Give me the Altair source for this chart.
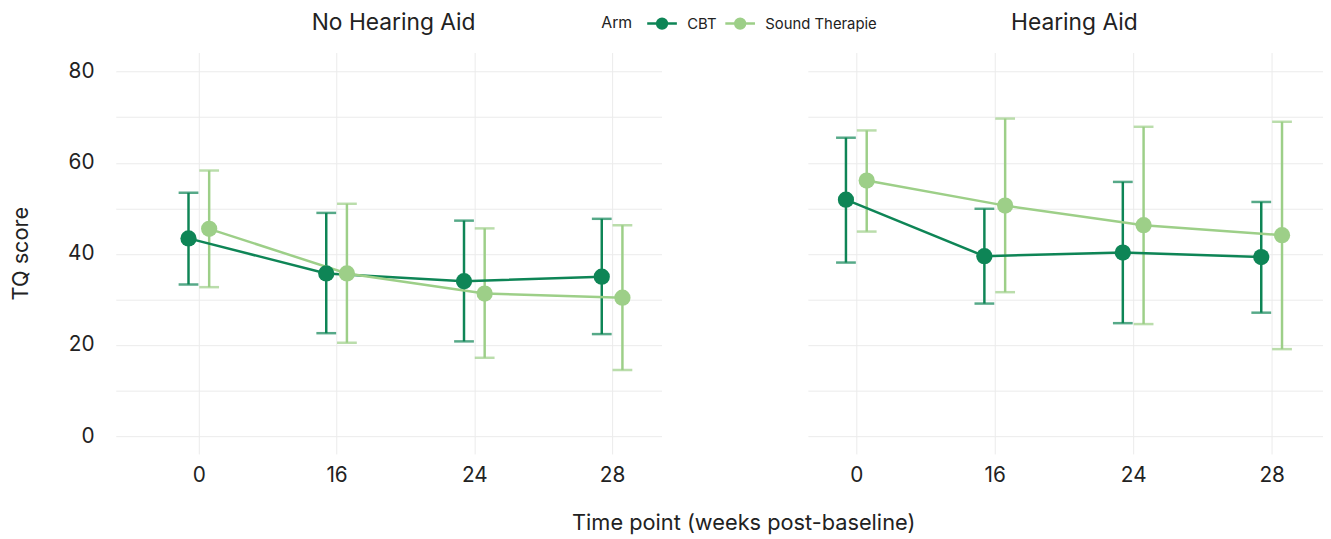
import altair as alt
import pandas as pd

TIMES = ["0", "16", "24", "28"]
ARMS = ["CBT", "Sound Therapie"]
GROUPS = ["No Hearing Aid", "Hearing Aid"]
COLORS = ["#0E8556", "#9DCF88"]

NHA_CBT_MEAN = [43.4, 35.7, 34.0, 35.0]
NHA_CBT_LO = [33.3, 22.6, 20.8, 22.4]
NHA_CBT_HI = [53.4, 49.0, 47.3, 47.7]
NHA_ST_MEAN = [45.5, 35.7, 31.3, 30.4]
NHA_ST_LO = [32.7, 20.5, 17.2, 14.5]
NHA_ST_HI = [58.3, 51.0, 45.6, 46.3]
HA_CBT_MEAN = [51.9, 39.5, 40.3, 39.3]
HA_CBT_LO = [38.1, 29.1, 24.8, 27.1]
HA_CBT_HI = [65.5, 49.9, 55.8, 51.4]
HA_ST_MEAN = [56.1, 50.6, 46.3, 44.1]
HA_ST_LO = [44.9, 31.6, 24.6, 19.1]
HA_ST_HI = [67.1, 69.7, 67.9, 69.0]

SERIES = {
    ("No Hearing Aid", "CBT"): (NHA_CBT_MEAN, NHA_CBT_LO, NHA_CBT_HI),
    ("No Hearing Aid", "Sound Therapie"): (NHA_ST_MEAN, NHA_ST_LO, NHA_ST_HI),
    ("Hearing Aid", "CBT"): (HA_CBT_MEAN, HA_CBT_LO, HA_CBT_HI),
    ("Hearing Aid", "Sound Therapie"): (HA_ST_MEAN, HA_ST_LO, HA_ST_HI),
}

rows = []
for (g, a), (m, lo, hi) in SERIES.items():
    for i, t in enumerate(TIMES):
        rows.append({"group": g, "arm": a, "idx": i, "time": t,
                     "mean": m[i], "lo": lo[i], "hi": hi[i]})
df = pd.DataFrame(rows)

FONT = "Inter"
TXT = "#222222"
GRID = "#EBEBEB"
DODGE = 0.075

label_expr = "[" + ",".join("'%s'" % t for t in TIMES) + "][datum.value]"
y_label_expr = "datum.value % 20 == 0 ? datum.label : ''"

color = alt.Color(
    "arm:N",
    scale=alt.Scale(domain=ARMS, range=COLORS),
    legend=alt.Legend(
        title="Arm", orient="none", legendX=491, legendY=-41,
        direction="horizontal", titleOrient="left",
        titleFont=FONT, titleFontSize=16, titleFontWeight="normal", titleColor=TXT,
        labelFont=FONT, labelFontSize=15, labelColor=TXT,
        symbolType="M-1.5,0L1.5,0M-0.5,0A0.5,0.5 0 1,0 0.5,0A0.5,0.5 0 1,0 -0.5,0",
        symbolSize=400, symbolStrokeWidth=2.5, symbolOpacity=1,
        columnPadding=3, labelOffset=14, titlePadding=18,
    ),
)


def panel(group, domain, width, show_y, title_dx):
    base = alt.Chart(df).transform_filter(
        alt.datum.group == group
    ).transform_calculate(
        pos="datum.idx + (datum.arm == 'CBT' ? %f : %f)" % (-DODGE, DODGE)
    )
    x = alt.X("pos:Q",
              scale=alt.Scale(domain=domain, nice=False, zero=False),
              axis=alt.Axis(values=[0, 1, 2, 3], labelExpr=label_expr, title=None,
                            grid=True, gridColor=GRID, gridWidth=1,
                            ticks=False, domain=False,
                            labelFont=FONT, labelFontSize=21, labelColor=TXT,
                            labelPadding=11))
    if show_y:
        yaxis = alt.Axis(values=list(range(0, 90, 10)), labelExpr=y_label_expr,
                         title="TQ score", titleFont=FONT, titleFontSize=22,
                         titleFontWeight="normal", titleColor=TXT, titlePadding=35,
                         grid=True, gridColor=GRID, gridWidth=1,
                         ticks=False, domain=False,
                         labelFont=FONT, labelFontSize=21, labelColor=TXT,
                         labelPadding=22)
    else:
        yaxis = alt.Axis(values=list(range(0, 90, 10)), labels=False, title=None,
                         grid=True, gridColor=GRID, gridWidth=1,
                         ticks=False, domain=False)
    yscale = alt.Scale(domain=[-3.9, 84.2], nice=False, zero=False)
    y = alt.Y("mean:Q", scale=yscale, axis=yaxis)

    rule = base.mark_rule(strokeWidth=2.5).encode(
        x=x, y=alt.Y("lo:Q", scale=yscale, axis=yaxis), y2="hi:Q", color=color)
    cap_lo = base.mark_tick(orient="horizontal", size=20, thickness=2.5).encode(
        x=x, y=alt.Y("lo:Q", scale=yscale, axis=yaxis), color=color)
    cap_hi = base.mark_tick(orient="horizontal", size=20, thickness=2.5).encode(
        x=x, y=alt.Y("hi:Q", scale=yscale, axis=yaxis), color=color)
    line = base.mark_line(strokeWidth=2.5).encode(
        x=x, y=y, color=color, order="idx:Q")
    pts = base.mark_point(filled=True, size=270, opacity=1).encode(
        x=x, y=y, color=color)
    return alt.layer(rule, cap_lo, cap_hi, line, pts).properties(
        width=width, height=406,
        title=alt.TitleParams(group, font=FONT, fontSize=23, fontWeight="normal",
                              color=TXT, anchor="middle", frame="group", offset=18,
                              dx=title_dx),
    )


left = panel(GROUPS[0], [-0.603, 3.359], 552, True, 5)
right = panel(GROUPS[1], [-0.35, 3.371], 521, False, 9)

chart = alt.hconcat(left, right, spacing=148).properties(
    padding={"left": 2, "top": 1, "right": 0, "bottom": 0},
    background="white",
    title=alt.TitleParams("Time point (weeks post-baseline)", orient="bottom",
                          anchor="middle", font=FONT, fontSize=22,
                          fontWeight="normal", color=TXT, offset=28, dx=78),
).configure_view(strokeWidth=0)

chart.save("out.html", embed_options={"renderer": "svg", "actions": False})
